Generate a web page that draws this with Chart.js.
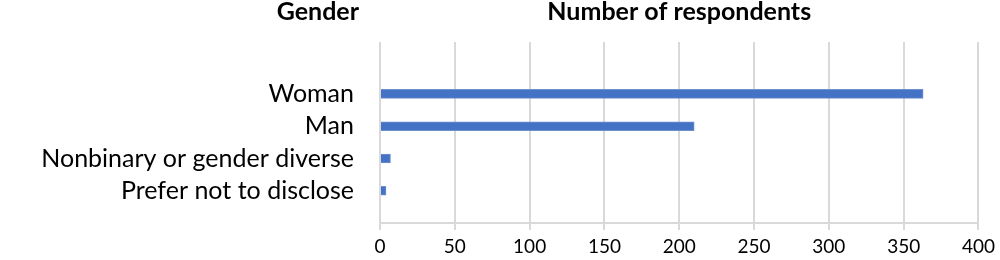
<!DOCTYPE html>
<html>
<head>
<meta charset="utf-8">
<script src="https://cdn.jsdelivr.net/npm/chart.js@4"></script>
<style>
  body { margin: 0; background: #fff; }
  #wrap { width: 1000px; height: 260px; }
</style>
</head>
<body>
<div id="wrap"><canvas id="gender-chart"></canvas></div>
<script>
// data
const categories = ["Woman", "Man", "Nonbinary or gender diverse", "Prefer not to disclose"];
const respondents = [363, 210, 7, 4];
const xTicks = [0, 50, 100, 150, 200, 250, 300, 350, 400];

const FONT = "Lato, 'Liberation Sans', Arial, sans-serif";

// two headings drawn above the plot
const headings = {
  id: 'headings',
  afterDraw(chart) {
    const ctx = chart.ctx, a = chart.chartArea;
    ctx.save();
    ctx.font = "bold 25px " + FONT;
    ctx.fillStyle = "#000";
    ctx.textBaseline = "alphabetic";
    ctx.textAlign = "right";
    ctx.fillText("Gender", 359, 20);
    ctx.textAlign = "center";
    ctx.fillText("Number of respondents", (a.left + a.right) / 2, 20);
    ctx.restore();
  }
};

new Chart(document.getElementById("gender-chart"), {
  type: 'bar',
  data: {
    datasets: [{
      label: "Number of respondents",
      data: respondents.map((v, i) => ({ x: v, y: i })),
      backgroundColor: "#4472C4",
      borderColor: "#6f8fd0",
      borderWidth: 1,
      barThickness: 9
    }]
  },
  options: {
    indexAxis: 'y',
    responsive: true,
    maintainAspectRatio: false,
    animation: false,
    layout: { padding: { top: 42, right: 13, left: 0, bottom: 0 } },
    plugins: { legend: { display: false }, tooltip: { enabled: false } },
    scales: {
      x: {
        type: 'linear',
        min: 0, max: 400,
        afterBuildTicks: s => { s.ticks = xTicks.map(v => ({ value: v })); },
        afterFit: s => { s.height = 37; },
        grid: { color: "#d9d9d9", lineWidth: 2, tickLength: 7, drawTicks: true },
        border: { color: "#d9d9d9", width: 2 },
        ticks: { color: "#000", font: { family: FONT, size: 19 }, padding: 5 }
      },
      y: {
        type: 'linear',
        reverse: true,
        offset: false,
        bounds: 'data',
        min: -1.61, max: 4.0,
        afterBuildTicks: s => { s.ticks = categories.map((c, i) => ({ value: i })); },
        afterFit: s => { s.width = 380; },
        grid: { display: false },
        border: { display: false },
        ticks: {
          color: "#000",
          font: { family: FONT, size: 25 },
          padding: 18,
          callback: v => categories[v] ?? ''
        }
      }
    }
  },
  plugins: [headings]
});
</script>
</body>
</html>
